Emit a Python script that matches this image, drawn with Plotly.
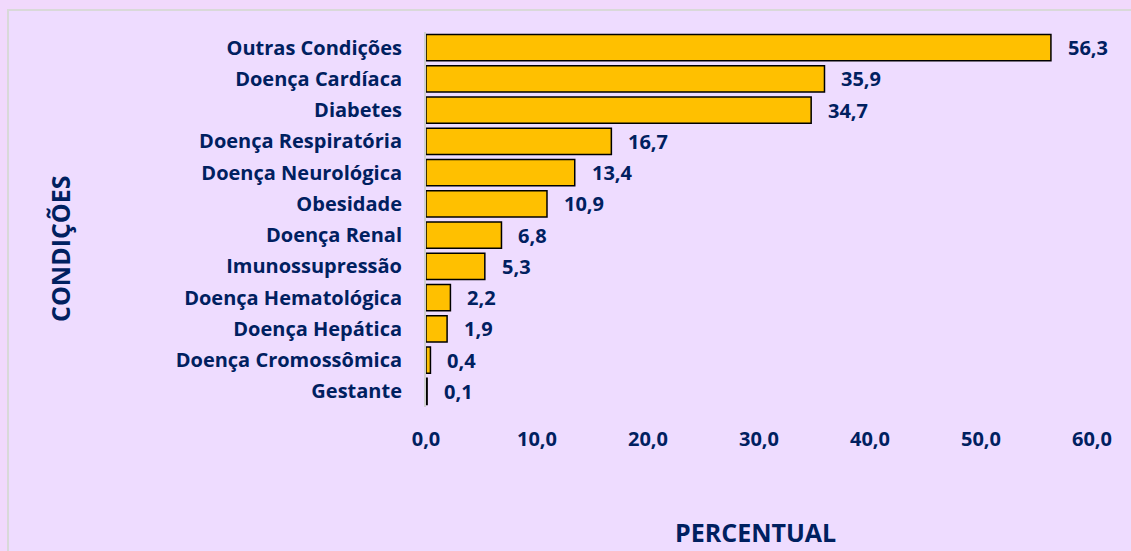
import plotly.graph_objects as go

categories = ["Outras Condições", "Doença Cardíaca", "Diabetes", "Doença Respiratória",
              "Doença Neurológica", "Obesidade", "Doença Renal", "Imunossupressão",
              "Doença Hematológica", "Doença Hepática", "Doença Cromossômica", "Gestante"]
values = [56.3, 35.9, 34.7, 16.7, 13.4, 10.9, 6.8, 5.3, 2.2, 1.9, 0.4, 0.1]
x_ticks = [0, 10, 20, 30, 40, 50, 60]

NAVY = "#002060"
FONT = "Open Sans"
OUTER = "#F1D9FC"
INNER = "#EEDCFF"

W, H = 1131, 551
L, R, T, B = 426, 39, 32, 144
pw, ph = W - L - R, H - T - B

def px_to_paper_x(p):
    return (p - L) / pw

def px_to_paper_y(p):
    return (H - B - p) / ph

fig = go.Figure()
fig.add_trace(go.Bar(
    x=values, y=categories, orientation="h",
    marker=dict(color="#FFC000", line=dict(color="#000000", width=1.5)),
    hoverinfo="skip",
))

annotations = []
for c, v in zip(categories, values):
    annotations.append(dict(
        x=v, y=c, xref="x", yref="y", text=f"{v:.1f}".replace(".", ","),
        showarrow=False, xanchor="left", yanchor="middle", xshift=15, yshift=0,
        font=dict(family=FONT, size=20, color=NAVY, weight="bold"),
    ))
annotations.append(dict(
    x=px_to_paper_x(60), y=px_to_paper_y(248), xref="paper", yref="paper",
    text="CONDIÇÕES", textangle=-90, showarrow=False,
    xanchor="center", yanchor="middle",
    font=dict(family=FONT, size=25, color=NAVY, weight="bold"),
))
annotations.append(dict(
    x=px_to_paper_x(755), y=px_to_paper_y(532), xref="paper", yref="paper",
    text="PERCENTUAL", showarrow=False,
    xanchor="center", yanchor="middle",
    font=dict(family=FONT, size=25, color=NAVY, weight="bold"),
))

fig.update_layout(
    width=W, height=H,
    margin=dict(l=L, r=R, t=T, b=B, pad=0),
    paper_bgcolor=OUTER,
    plot_bgcolor="rgba(0,0,0,0)",
    separators=",.",
    bargap=0.16,
    showlegend=False,
    annotations=annotations,
    shapes=[dict(
        type="rect", xref="paper", yref="paper",
        x0=px_to_paper_x(8), x1=px_to_paper_x(1145),
        y0=px_to_paper_y(565), y1=px_to_paper_y(10),
        fillcolor=INNER, line=dict(color="#D9D9D9", width=2), layer="below",
    )],
    xaxis=dict(
        range=[0, 60], tickvals=x_ticks, tickformat=".1f",
        showgrid=False, zeroline=False, showline=False,
        ticks="", ticklabelstandoff=18,
        tickfont=dict(family=FONT, size=20, color=NAVY, weight="bold"),
    ),
    yaxis=dict(
        categoryorder="array", categoryarray=categories[::-1],
        showgrid=False, zeroline=False,
        showline=True, linecolor="#D0D0D0", linewidth=2,
        ticks="", ticklabelstandoff=18,
        tickfont=dict(family=FONT, size=20, color=NAVY, weight="bold"),
    ),
)

fig.write_html(
    "out.html",
    config={"displayModeBar": False},
    post_script=f"document.body.style.margin='0';document.body.style.background='{OUTER}';",
)
